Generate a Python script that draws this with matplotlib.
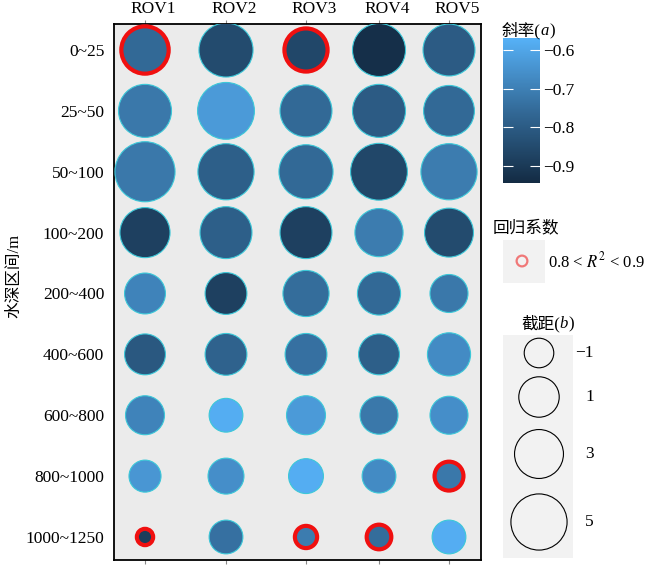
import numpy as np
import matplotlib
matplotlib.use("Agg")
import matplotlib.pyplot as plt
import matplotlib.transforms as mtransforms
from matplotlib.colors import LinearSegmentedColormap, Normalize
from matplotlib.colorbar import ColorbarBase
from matplotlib.patches import Rectangle

plt.rcParams['font.family'] = ['Liberation Serif', 'Noto Sans CJK SC']
plt.rcParams['mathtext.fontset'] = 'stix'
plt.rcParams['axes.unicode_minus'] = True

rovs = ["ROV1", "ROV2", "ROV3", "ROV4", "ROV5"]
depths = ["0~25", "25~50", "50~100", "100~200", "200~400",
          "400~600", "600~800", "800~1000", "1000~1250"]

# slope a (colour), rows = depth, cols = ROV
slope = np.array([
    [-0.76, -0.85, -0.86, -0.93, -0.80],
    [-0.72, -0.63, -0.76, -0.80, -0.76],
    [-0.72, -0.79, -0.76, -0.86, -0.71],
    [-0.88, -0.79, -0.88, -0.71, -0.85],
    [-0.69, -0.88, -0.75, -0.76, -0.72],
    [-0.81, -0.78, -0.74, -0.79, -0.67],
    [-0.69, -0.58, -0.63, -0.72, -0.66],
    [-0.64, -0.66, -0.58, -0.67, -0.72],
    [-0.89, -0.74, -0.71, -0.75, -0.58],
])

# intercept b (size)
intercept = np.array([
    [2.6, 4.4, 1.6, 4.1, 3.8],
    [4.1, 5.2, 3.8, 4.1, 3.5],
    [6.2, 5.0, 4.4, 5.2, 5.0],
    [3.3, 3.8, 3.8, 2.8, 3.0],
    [1.1, 1.3, 2.3, 1.6, 0.5],
    [1.1, 1.3, 1.3, 1.1, 1.6],
    [0.7, -0.3, 0.7, 0.5, 0.5],
    [-0.6, 0.1, -0.1, -0.3, -1.1],
    [-2.6, -0.3, -2.0, -1.7, -0.3],
])

# True where 0.8 < R^2 < 0.9
r2_mid = np.array([
    [1, 0, 1, 0, 0],
    [0, 0, 0, 0, 0],
    [0, 0, 0, 0, 0],
    [0, 0, 0, 0, 0],
    [0, 0, 0, 0, 0],
    [0, 0, 0, 0, 0],
    [0, 0, 0, 0, 0],
    [0, 0, 0, 0, 1],
    [1, 0, 1, 1, 0],
], dtype=bool)

size_breaks = [-1, 1, 3, 5]
cbar_ticks = [-0.6, -0.7, -0.8, -0.9]
a_min, a_max = -0.944, -0.569

cmap = LinearSegmentedColormap.from_list(
    "gg", ["#132B43", "#336A98", "#56B1F7"])
norm = Normalize(vmin=a_min, vmax=a_max)


def msize(b):
    return 197.0 * (np.asarray(b) + 3.3)


def mixed_title(axx, x, y, head, var):
    # CJK head + italic latin variable + ")"
    t1 = axx.text(x, y, head + "(", fontsize=12, va="baseline", ha="left")
    t2 = axx.annotate(var, xy=(1, 0), xycoords=t1, va="bottom", ha="left",
                      fontsize=12, fontstyle="italic")
    axx.annotate(")", xy=(1, 0), xycoords=t2, va="bottom", ha="left",
                 fontsize=12)


col_x = [0, 1.0125, 2.0125, 2.925, 3.8]

fig = plt.figure(figsize=(6.5, 5.71), dpi=100)
ax = fig.add_axes([114/650, 1-560/571, 367/650, 536/571])
ax.set_facecolor("#ebebeb")

xx, yy = np.meshgrid(col_x, np.arange(len(depths)))
normal = ~r2_mid
ax.scatter(xx[normal], yy[normal], s=msize(intercept[normal]),
           c=slope[normal], cmap=cmap, norm=norm,
           edgecolors="#3cc8d8", linewidths=0.8, zorder=3)
ax.scatter(xx[r2_mid], yy[r2_mid], s=msize(intercept[r2_mid]),
           c=slope[r2_mid], cmap=cmap, norm=norm,
           edgecolors="#f01010", linewidths=3.0, zorder=3)

ax.set_xlim(-0.3875, 4.2)
ax.set_ylim(8.378, -0.427)
ax.set_xticks(col_x)
ax.set_xticklabels(rovs, fontsize=12.5)
ax.tick_params(axis="x", top=True, labeltop=True, bottom=True,
               labelbottom=False, length=3, color="#888888", pad=2)
shift = mtransforms.ScaledTranslation(4/100, 0, fig.dpi_scale_trans)
for lab in ax.get_xticklabels(which="major"):
    lab.set_transform(lab.get_transform() + shift)
for t in ax.xaxis.get_major_ticks():
    t.label2.set_transform(t.label2.get_transform() + shift)
ax.set_yticks(range(len(depths)))
ax.set_yticklabels(depths, fontsize=12.5)
ax.tick_params(axis="y", length=0, pad=7)
for sp in ax.spines.values():
    sp.set_linewidth(1.3)
ax.set_ylabel("水深区间/m", fontsize=12)
ax.yaxis.set_label_coords(-0.25, 0.53)

# colour bar
cax = fig.add_axes([503/650, 1-183/571, 37/650, 145/571])
cb = ColorbarBase(cax, cmap=cmap, norm=norm, ticks=cbar_ticks)
cb.outline.set_visible(False)
cax.yaxis.set_ticks_position("both")
cax.tick_params(direction="in", color="white", length=7, width=0.8,
                labelleft=False, labelright=True, labelsize=12.5, pad=2)

# overlay in pixel coordinates for legends
lax = fig.add_axes([0, 0, 1, 1], facecolor="none")
lax.set_xlim(0, 650)
lax.set_ylim(571, 0)
lax.axis("off")

mixed_title(lax, 502, 35, "斜率", "a")

lax.text(493, 228, "回归系数", fontsize=12, va="center", ha="left")
lax.add_patch(Rectangle((503, 240), 42, 43, facecolor="#f2f2f2", edgecolor="none"))
lax.scatter([522], [261], s=60, facecolors="none", edgecolors="#f07878",
            linewidths=1.6)
lax.text(548, 261, "0.8 < $R^2$ < 0.9", fontsize=12, va="center", ha="left")

mixed_title(lax, 521, 328, "截距", "b")
lax.add_patch(Rectangle((503, 335), 70, 223, facecolor="#f2f2f2", edgecolor="none"))
key_y = [353, 397, 454, 522]
lax.scatter([539]*len(size_breaks), key_y, s=msize(size_breaks),
            facecolors="none", edgecolors="black", linewidths=0.8)
for b, y in zip(size_breaks, key_y):
    lax.text(594, y, "−1" if b < 0 else str(b), fontsize=12.5,
             va="center", ha="right")

fig.savefig("out.png", dpi=100)
